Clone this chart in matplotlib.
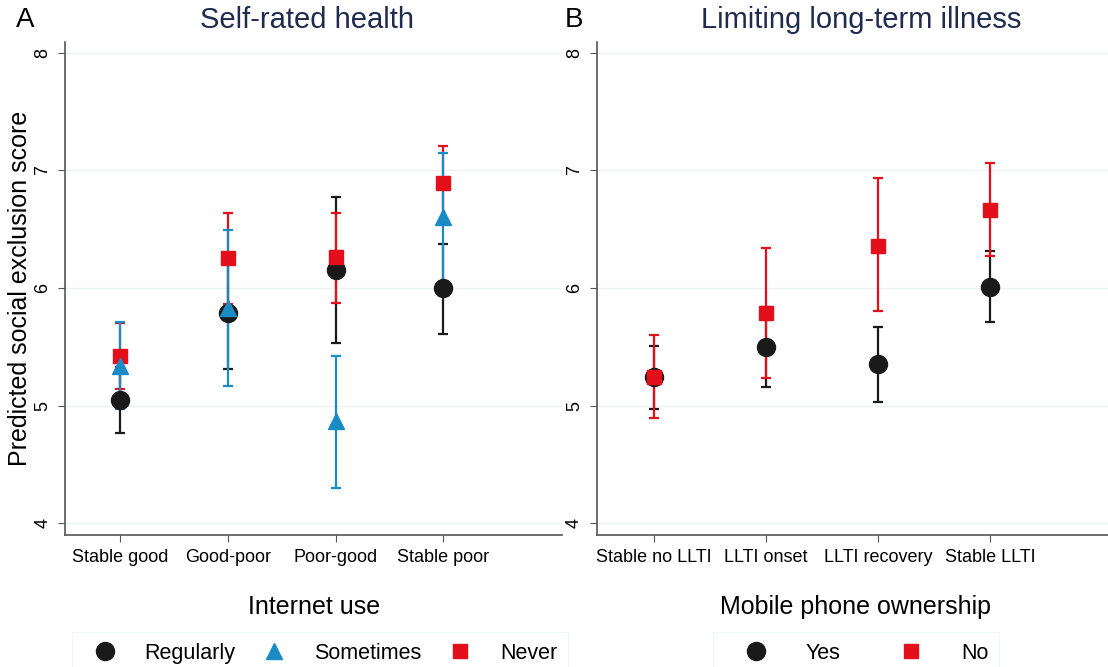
import matplotlib.pyplot as plt
from matplotlib.lines import Line2D

plt.rcParams['font.family'] = ['Liberation Sans', 'DejaVu Sans']

# Panel A: self-rated health by internet use
health_cats = ['Stable good', 'Good-poor', 'Poor-good', 'Stable poor']
reg_est = [5.05, 5.79, 6.15, 6.00]
reg_lo = [4.77, 5.31, 5.53, 5.61]
reg_hi = [5.33, 6.27, 6.77, 6.37]
some_est = [5.34, 5.83, 4.87, 6.60]
some_lo = [4.97, 5.17, 4.30, 6.05]
some_hi = [5.71, 6.49, 5.42, 7.15]
never_est = [5.42, 6.25, 6.26, 6.89]
never_lo = [5.14, 5.86, 5.87, 6.57]
never_hi = [5.70, 6.64, 6.64, 7.21]

# Panel B: limiting long-term illness by mobile phone ownership
llti_cats = ['Stable no LLTI', 'LLTI onset', 'LLTI recovery', 'Stable LLTI']
yes_est = [5.24, 5.50, 5.35, 6.01]
yes_lo = [4.97, 5.16, 5.03, 5.71]
yes_hi = [5.51, 5.84, 5.67, 6.31]
no_est = [5.24, 5.79, 6.36, 6.66]
no_lo = [4.89, 5.23, 5.80, 6.27]
no_hi = [5.60, 6.34, 6.93, 7.06]

BLACK = '#1a1a1a'
BLUE = '#1a8bc4'
RED = '#e3101b'
NAVY = '#1e2b4f'

fig = plt.figure(figsize=(11.08, 6.67), dpi=100)
axA = fig.add_axes([0.0587, 0.198, 0.4486, 0.739])
axB = fig.add_axes([0.5388, 0.198, 0.4612, 0.739])


def draw_series(ax, est, lo, hi, color, marker, ms, z):
    x = list(range(1, len(est) + 1))
    yerr = [[e - l for e, l in zip(est, lo)], [h - e for e, h in zip(est, hi)]]
    ax.errorbar(x, est, yerr=yerr, fmt='none', ecolor=color, elinewidth=1.6,
                capsize=3.5, capthick=1.6, zorder=z)
    ax.plot(x, est, linestyle='none', marker=marker, color=color,
            markersize=ms, zorder=z + 10)


draw_series(axA, reg_est, reg_lo, reg_hi, BLACK, 'o', 13, 2)
draw_series(axA, never_est, never_lo, never_hi, RED, 's', 10, 3)
draw_series(axA, some_est, some_lo, some_hi, BLUE, '^', 11, 4)

draw_series(axB, yes_est, yes_lo, yes_hi, BLACK, 'o', 13, 2)
draw_series(axB, no_est, no_lo, no_hi, RED, 's', 10, 3)

for ax, cats in [(axA, health_cats), (axB, llti_cats)]:
    ax.set_xlim(0.49, 5.1)
    ax.set_ylim(3.9, 8.09)
    ax.set_xticks(range(1, 5))
    ax.set_xticklabels(cats, fontsize=13)
    ax.set_yticks([4, 5, 6, 7, 8])
    ax.set_yticklabels(['4', '5', '6', '7', '8'], rotation=90, va='center', fontsize=13)
    ax.grid(axis='y', color='#eaf2f4', linewidth=1)
    ax.set_axisbelow(True)
    for s in ['top', 'right']:
        ax.spines[s].set_visible(False)
    for s in ['left', 'bottom']:
        ax.spines[s].set_color('#555555')
        ax.spines[s].set_linewidth(1.2)
    ax.tick_params(direction='out', length=5, color='#555555', pad=5)

axB.set_xlim(0.49, 5.05)
axA.set_ylabel('Predicted social exclusion score', fontsize=18)
axA.yaxis.set_label_coords(-0.066, 0.5)

fig.text(307 / 1108, 1 - 20 / 667, 'Self-rated health', ha='center', va='center',
         fontsize=21, color=NAVY)
fig.text(861 / 1108, 1 - 20 / 667, 'Limiting long-term illness', ha='center', va='center',
         fontsize=21, color=NAVY)
fig.text(16 / 1108, 1 - 20 / 667, 'A', ha='left', va='center', fontsize=20)
fig.text(565 / 1108, 1 - 20 / 667, 'B', ha='left', va='center', fontsize=20)

fig.text(314 / 1108, 1 - 607 / 667, 'Internet use', ha='center', va='center', fontsize=18)
fig.text(856 / 1108, 1 - 607 / 667, 'Mobile phone ownership', ha='center', va='center',
         fontsize=18)

hA = [Line2D([], [], linestyle='none', marker='o', color=BLACK, markersize=13),
      Line2D([], [], linestyle='none', marker='^', color=BLUE, markersize=11),
      Line2D([], [], linestyle='none', marker='s', color=RED, markersize=10)]
legA = fig.legend(hA, ['Regularly', 'Sometimes', 'Never'], ncol=3, loc='upper center',
                  bbox_to_anchor=(320 / 1108, 1 - 632 / 667), borderaxespad=0,
                  fontsize=15.5, frameon=True, fancybox=False, edgecolor='#eef4f5',
                  handlelength=2, handletextpad=0.85, columnspacing=0.8, borderpad=0.5)
hB = [Line2D([], [], linestyle='none', marker='o', color=BLACK, markersize=13),
      Line2D([], [], linestyle='none', marker='s', color=RED, markersize=10)]
legB = fig.legend(hB, ['Yes', 'No'], ncol=2, loc='upper center',
                  bbox_to_anchor=(856 / 1108, 1 - 632 / 667), borderaxespad=0,
                  fontsize=15.5, frameon=True, fancybox=False, edgecolor='#eef4f5',
                  handlelength=3, handletextpad=0.8, columnspacing=1.8, borderpad=0.5)

fig.savefig('out.png', dpi=100)
